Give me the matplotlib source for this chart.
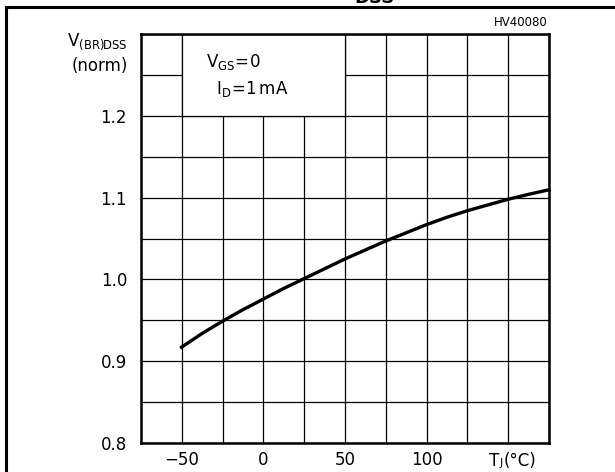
import matplotlib
matplotlib.use("Agg")
import matplotlib.pyplot as plt
from matplotlib.lines import Line2D
from matplotlib.patches import Rectangle
from matplotlib.offsetbox import TextArea, HPacker, AnnotationBbox

plt.rcParams['font.family'] = ['DejaVu Sans']
plt.rcParams['mathtext.fontset'] = 'custom'
plt.rcParams['mathtext.rm'] = 'DejaVu Sans'

# curve: junction temp (degC) vs normalised V(BR)DSS
temp_c = [-51, -37.5, -25, -12.5, 0, 12.5, 25, 37.5, 50, 62.5,
          75, 87.5, 100, 112.5, 125, 137.5, 150, 162.5, 176]
v_norm = [0.916, 0.934, 0.949, 0.963, 0.976, 0.989, 1.001, 1.013, 1.025, 1.036,
          1.047, 1.057, 1.067, 1.076, 1.084, 1.091, 1.098, 1.104, 1.110]

x_labels = ['\u221250', '0', '50', '100', '']
x_label_pos = [-50, 0, 50, 100, 150]
y_labels = ['0.8', '0.9', '1.0', '1.1', '1.2']
y_label_pos = [0.8, 0.9, 1.0, 1.1, 1.2]

fig = plt.figure(figsize=(6.15, 4.72), dpi=100)
W, H = 615, 472
ax = fig.add_axes([141 / W, 29 / H, 408 / W, 409 / H])

ax.set_xlim(-75, 175)
ax.set_ylim(0.8, 1.3)

# grid: every 25 degC and every 0.05
ax.set_xticks(x_label_pos)
ax.set_xticklabels(x_labels, fontsize=12)
ax.set_xticks([-75 + 25 * i for i in range(11)], minor=True)
ax.set_yticks(y_label_pos)
ax.set_yticklabels(y_labels, fontsize=12)
ax.set_yticks([0.8 + 0.05 * i for i in range(11)], minor=True)
ax.tick_params(which='both', length=0)
ax.tick_params(axis='x', pad=6)
ax.tick_params(axis='y', pad=10)
ax.grid(which='both', color='black', lw=0.9)
ax.set_axisbelow(True)
for s in ax.spines.values():
    s.set_linewidth(1.8)

# T_J(°C) in place of the 150 label, small J on the baseline
tj = HPacker(children=[TextArea('T', textprops=dict(fontsize=12)),
                       TextArea('J', textprops=dict(fontsize=8)),
                       TextArea('(°C)', textprops=dict(fontsize=12))],
             align='baseline', pad=0, sep=0.5)
ax.add_artist(AnnotationBbox(tj, (150, 0), xycoords=('data', 'axes fraction'),
                             xybox=(3, -6.5), boxcoords='offset points',
                             box_alignment=(0.5, 1), frameon=False,
                             annotation_clip=False))

# condition box (no grid inside)
ax.add_patch(Rectangle((-50, 1.2), 100, 0.1, facecolor='white',
                       edgecolor='black', lw=0.9, zorder=1))
ax.text(-35, 1.266, r'$\mathregular{V_{GS}\!=\!0}$', fontsize=12, va='center', zorder=4)
ax.text(-29, 1.233, r'$\mathregular{I_D\!=\!1\,mA}$', fontsize=12, va='center', zorder=4)

ax.plot(temp_c, v_norm, color='black', lw=2.4, zorder=3, clip_on=False,
        solid_capstyle='butt', solid_joinstyle='round')

# y axis caption
fig.text(128 / W, 1 - 42 / H, r'$\mathregular{V_{(BR)DSS}}$', fontsize=12,
         ha='right', va='center')
fig.text(128 / W, 1 - 66 / H, '(norm)', fontsize=12, ha='right', va='center')

fig.text(548 / W, 1 - 22 / H, 'HV40080', fontsize=8.5, ha='right', va='center')

# outer frame and cut-off title from the page
fig.add_artist(Line2D([6 / W, 6 / W], [0, 1 - 7 / H], color='black', lw=2.2,
                      transform=fig.transFigure))
fig.add_artist(Line2D([6 / W, 1], [1 - 7 / H, 1 - 7 / H], color='black', lw=2.2,
                      transform=fig.transFigure))
fig.text(375 / W, 1 - 3 / H, 'DSS', fontsize=13, fontweight='bold',
         ha='center', va='baseline')

fig.savefig('out.png', dpi=100)
